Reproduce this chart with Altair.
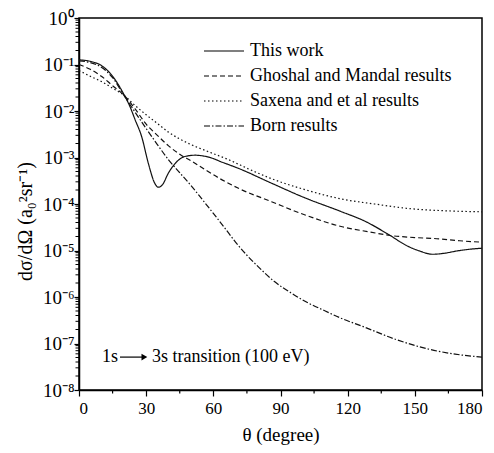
import altair as alt
import pandas as pd

series_names = ["This work", "Ghoshal and Mandal results", "Saxena and et al results", "Born results"]

theta_this = [0, 5, 10, 15, 20, 22.8, 25, 28, 31, 33.9, 35.4, 37.2, 39.9, 42.9, 47.3, 51.8, 58.5, 64, 71, 86,
              101, 117, 128, 139, 146, 152, 158, 163, 169, 175, 180]
dcs_this = [1.26e-1, 1.17e-1, 9.5e-2, 5.6e-2, 2.3e-2, 1.23e-2, 6.6e-3, 2.8e-3, 7.4e-4, 2.75e-4, 2.3e-4, 2.57e-4,
            4.6e-4, 7.4e-4, 1.05e-3, 1.12e-3, 1.0e-3, 7.9e-4, 5.9e-4, 2.8e-4, 1.35e-4, 6.9e-5, 4.2e-5, 2.1e-5,
            1.3e-5, 9.8e-6, 8.3e-6, 8.7e-6, 9.8e-6, 1.07e-5, 1.12e-5]

theta_gm = [0, 5, 10, 15, 20, 25, 30, 35, 40, 45, 50, 56, 63, 71, 86, 101, 118, 130, 139, 150, 161, 170, 180]
dcs_gm = [1.0e-1, 7.9e-2, 5.6e-2, 3.5e-2, 2.2e-2, 1.12e-2, 5.2e-3, 3.0e-3, 1.78e-3, 1.17e-3, 8.5e-4, 5.6e-4,
          3.5e-4, 2.2e-4, 1.12e-4, 5.8e-5, 3.2e-5, 2.5e-5, 2.1e-5, 1.9e-5, 1.78e-5, 1.62e-5, 1.51e-5]

theta_sx = [0, 5, 10, 15, 20, 25, 30, 35, 40, 45, 50, 58, 67, 76, 86, 100, 118, 132, 146, 165, 180]
dcs_sx = [7.4e-2, 5.6e-2, 4.3e-2, 3.1e-2, 2.2e-2, 1.32e-2, 8.3e-3, 5.4e-3, 3.5e-3, 2.5e-3, 1.9e-3, 1.32e-3,
          8.9e-4, 5.6e-4, 3.5e-4, 2.1e-4, 1.26e-4, 1.0e-4, 8.1e-5, 7.1e-5, 6.8e-5]

theta_born = [0, 5, 10, 15, 20, 25, 30, 35, 40, 45, 50, 55, 60, 65, 70, 75, 80, 87, 95, 102, 110, 117, 127,
              142, 157, 168, 180]
dcs_born = [1.2e-1, 1.1e-1, 8.7e-2, 5.2e-2, 2.2e-2, 9.5e-3, 4.2e-3, 1.9e-3, 8.9e-4, 4.7e-4, 2.5e-4, 1.26e-4,
            6.3e-5, 3.1e-5, 1.5e-5, 7.9e-6, 4.5e-6, 2.2e-6, 1.2e-6, 7.6e-7, 5.0e-7, 3.5e-7, 2.3e-7, 1.2e-7,
            7.4e-8, 5.9e-8, 5.1e-8]

x_ticks = [0, 30, 60, 90, 120, 150, 180]
x_minor = [15, 45, 75, 105, 135, 165]
y_ticks = [1e-8, 1e-7, 1e-6, 1e-5, 1e-4, 1e-3, 1e-2, 1e-1, 1e0]
y_minor = [k * 10.0 ** e for e in range(-8, 0) for k in range(2, 10)]

rows = []
for name, th, vals in zip(series_names,
                          [theta_this, theta_gm, theta_sx, theta_born],
                          [dcs_this, dcs_gm, dcs_sx, dcs_born]):
    for t, v in zip(th, vals):
        rows.append({"series": name, "theta": t, "value": v})
df = pd.DataFrame(rows)

FONT = "Liberation Serif"
W, H = 403, 372

sup = "['⁰','¹','²','³','⁴','⁵','⁶','⁷','⁸','⁹']"
label_expr = ("'10' + (datum.value < 0.5 ? '⁻' : '') + " + sup +
              "[round(abs(log(datum.value)/LN10))]")

xscale = alt.Scale(domain=[0, 180], nice=False, zero=False)
yscale = alt.Scale(type="log", domain=[1e-8, 1], nice=False)

x_axis = alt.Axis(values=x_ticks, title="θ (degree)", grid=False, tickSize=6,
                  labelFont=FONT, labelFontSize=17, labelColor="black", labelPadding=4,
                  titleFont=FONT, titleFontSize=19, titleFontWeight="normal", titleColor="black",
                  titlePadding=9, domainColor="black", domainWidth=1.5, tickColor="black",
                  tickWidth=1.2)
y_axis = alt.Axis(values=y_ticks, labelExpr=label_expr, title="dσ/dΩ (a₀²sr⁻¹)", grid=False,
                  tickSize=5, labelFont=FONT, labelFontSize=19, labelColor="black", labelPadding=0,
                  titleFont=FONT, titleFontSize=20, titleFontWeight="normal", titleColor="black",
                  titleX=-54, titleY=203, titleAngle=270, titleAlign="center", titleBaseline="middle",
                  domainColor="black", domainWidth=1.5, tickColor="black", tickWidth=1.2)

lines = alt.Chart(df).mark_line(color="#111111", strokeWidth=1.2, interpolate="monotone").encode(
    x=alt.X("theta:Q", scale=xscale, axis=x_axis),
    y=alt.Y("value:Q", scale=yscale, axis=y_axis),
    strokeDash=alt.StrokeDash(
        "series:N",
        scale=alt.Scale(domain=series_names, range=[[1, 0], [5, 3], [1.5, 2.5], [6, 2, 1.5, 2]]),
        sort=series_names,
        legend=alt.Legend(title=None, orient="none", legendX=134, legendY=22,
                          symbolType="M-2,0H2", symbolSize=400, symbolStrokeWidth=1.2,
                          symbolStrokeColor="black", symbolFillColor="transparent",
                          labelFont=FONT, labelFontSize=18, labelColor="black", labelOffset=15,
                          labelLimit=0, rowPadding=5, padding=0)),
)

ymin = pd.DataFrame({"m": y_minor})
yminor_ticks = alt.Chart(ymin).mark_rule(color="black", strokeWidth=1).encode(
    y=alt.Y("m:Q", scale=yscale, axis=y_axis),
    x=alt.value(0), x2=alt.value(-3.5),
)
xmin = pd.DataFrame({"m": x_minor})
xminor_ticks = alt.Chart(xmin).mark_rule(color="black", strokeWidth=1.2).encode(
    x=alt.X("m:Q", scale=xscale, axis=x_axis),
    y=alt.value(H), y2=alt.value(H + 3.5),
)

ann_y = 5.1e-8
ann_text = pd.DataFrame({"theta": [10.3, 32.6], "value": [ann_y, ann_y],
                         "label": ["1s", "3s transition (100 eV)"]})
texts = alt.Chart(ann_text).mark_text(align="left", baseline="middle", font=FONT, fontSize=18,
                                      color="black").encode(
    x=alt.X("theta:Q", scale=xscale, axis=x_axis), y=alt.Y("value:Q", scale=yscale, axis=y_axis),
    text="label:N")
arrow_df = pd.DataFrame({"t1": [18.3], "t2": [28.5], "value": [ann_y]})
arrow_line = alt.Chart(arrow_df).mark_rule(color="black", strokeWidth=1.2).encode(
    x=alt.X("t1:Q", scale=xscale, axis=x_axis), x2="t2:Q",
    y=alt.Y("value:Q", scale=yscale, axis=y_axis))
head_df = pd.DataFrame({"theta": [29.2], "value": [ann_y]})
arrow_head = alt.Chart(head_df).mark_point(shape="triangle-right", filled=True, color="black",
                                           size=45, opacity=1).encode(
    x=alt.X("theta:Q", scale=xscale, axis=x_axis), y=alt.Y("value:Q", scale=yscale, axis=y_axis))

chart = alt.layer(lines, yminor_ticks, xminor_ticks, arrow_line, arrow_head, texts).properties(
    width=W, height=H,
    autosize=alt.AutoSizeParams(type="none"),
    padding={"left": 79, "top": 18, "right": 12, "bottom": 63},
    background="white",
).configure_view(stroke="black", strokeWidth=1.5)

chart.save("out.html", embed_options={"renderer": "svg", "actions": False})
